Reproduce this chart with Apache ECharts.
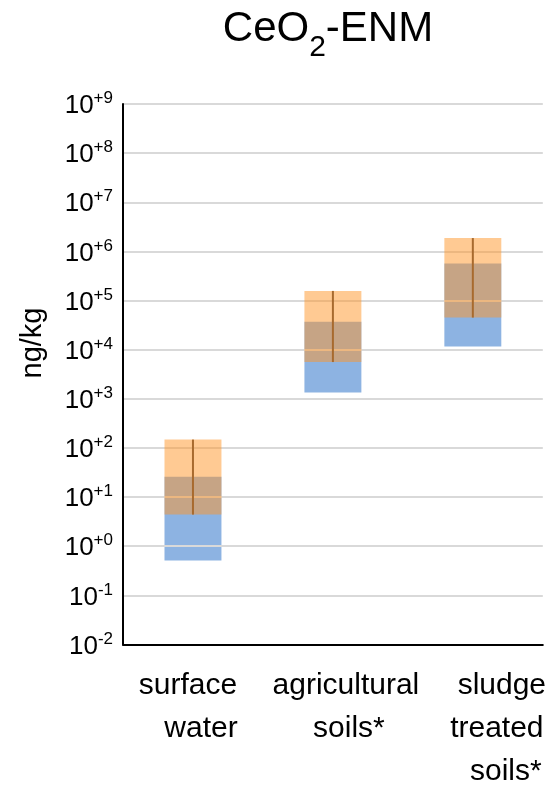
<!DOCTYPE html>
<html>
<head>
<meta charset="utf-8">
<script src="https://cdn.jsdelivr.net/npm/echarts@6/dist/echarts.min.js"></script>
<style>
html,body{margin:0;padding:0;background:#fff;}
#chart{width:549px;height:788px;}
</style>
</head>
<body>
<div id="chart"></div>
<script>
// ---- data ----
var categories = ['surface water', 'agricultural soils*', 'sludge treated soils*'];
var categoryLines = [['surface', 'water'], ['agricultural', 'soils*'], ['sludge', 'treated', 'soils*']];
var blueLow = [0.51, 1340, 11600];
var blueHigh = [26, 37000, 570000];
var orangeLow = [4.4, 5600, 45000];
var orangeHigh = [148, 157000, 1870000];
var yMin = 0.01, yMax = 1e9;
var yAxisTitle = 'ng/kg';

// ---- layout (styles, not data) ----
var lineOffsets = [[-5, 8], [13, 16], [29, 24, 33]];
var FONT = 'Liberation Sans, Arial, sans-serif';

var chart = echarts.init(document.getElementById('chart'));

var rich = {};
categoryLines.forEach(function (lines, i) {
  lines.forEach(function (l, j) {
    var d = lineOffsets[i][j] || 0;
    rich['c' + i + '_' + j] = {
      fontSize: 30, fontFamily: FONT, color: '#000', lineHeight: 43,
      padding: d >= 0 ? [0, 0, 0, 2 * d] : [0, -2 * d, 0, 0]
    };
  });
});

function rangeItem(color, widthRatio) {
  return function (params, api) {
    var i = api.value(0);
    var lo = api.coord([i, api.value(1)]);
    var hi = api.coord([i, api.value(2)]);
    var bw = api.size([1, 0])[0] * widthRatio;
    return {
      type: 'rect',
      shape: { x: lo[0] - bw / 2, y: hi[1], width: bw, height: lo[1] - hi[1] },
      style: { fill: color }
    };
  };
}

var blueData = categories.map(function (c, i) { return [i, blueLow[i], blueHigh[i]]; });
var orangeData = categories.map(function (c, i) { return [i, orangeLow[i], orangeHigh[i]]; });

var option = {
  animation: false,
  backgroundColor: '#fff',
  title: {
    text: '{a|CeO}{b|2}{a|-ENM}',
    left: 323, top: 3, textAlign: 'center',
    textStyle: {
      fontWeight: 'normal',
      rich: {
        a: { fontSize: 42, fontFamily: FONT, fontWeight: 'normal', color: '#000', lineHeight: 48, verticalAlign: 'top' },
        b: { fontSize: 30, fontFamily: FONT, fontWeight: 'normal', color: '#000', lineHeight: 48, verticalAlign: 'top', padding: [25, 0, 0, 0] }
      }
    }
  },
  graphic: [{
    type: 'text', x: 33, y: 343, rotation: Math.PI / 2,
    style: { text: yAxisTitle, fontSize: 29, fontFamily: FONT, fill: '#000', align: 'center', verticalAlign: 'middle' }
  }],
  grid: { left: 123, right: 6, top: 104, bottom: 143.5 },
  xAxis: {
    type: 'category', data: categories, z: 1,
    axisLine: { show: true, lineStyle: { color: '#000', width: 2 } },
    axisTick: { show: false },
    axisLabel: {
      interval: 0, margin: 20, rich: rich,
      formatter: function (v, idx) {
        return categoryLines[idx].map(function (l, j) { return '{c' + idx + '_' + j + '|' + l + '}'; }).join('\n');
      }
    },
    splitLine: { show: false }
  },
  yAxis: {
    type: 'log', logBase: 10, min: yMin, max: yMax, interval: 1, z: 1,
    axisLine: { show: true, lineStyle: { color: '#000', width: 2 } },
    axisTick: { show: false },
    splitLine: { show: true, lineStyle: { color: '#D9D9D9', width: 2 } },
    axisLabel: {
      margin: 10,
      formatter: function (v) {
        var e = Math.round(Math.log10(v));
        return '{b|10}{s|' + (e >= 0 ? '+' : '') + e + '}';
      },
      rich: {
        b: { fontSize: 26, fontFamily: FONT, color: '#000', lineHeight: 30, verticalAlign: 'top', padding: [4, 0, 0, 0] },
        s: { fontSize: 17, fontFamily: FONT, color: '#000', lineHeight: 30, verticalAlign: 'top', padding: [1, 0, 0, 0] }
      }
    }
  },
  series: [
    {
      type: 'custom', name: 'low', z: 0,
      renderItem: rangeItem('#8DB3E2', 0.407),
      encode: { x: 0, y: [1, 2] },
      data: blueData
    },
    {
      type: 'custom', name: 'high', z: 2,
      renderItem: rangeItem('rgba(255,150,40,0.5)', 0.407),
      encode: { x: 0, y: [1, 2] },
      data: orangeData
    },
    {
      type: 'custom', name: 'whisker', z: 3,
      renderItem: function (params, api) {
        var i = api.value(0);
        var lo = api.coord([i, api.value(1)]);
        var hi = api.coord([i, api.value(2)]);
        return {
          type: 'line',
          shape: { x1: lo[0], y1: lo[1], x2: hi[0], y2: hi[1] },
          style: { stroke: '#A86A2E', lineWidth: 2 }
        };
      },
      encode: { x: 0, y: [1, 2] },
      data: orangeData
    }
  ]
};
chart.setOption(option);
</script>
</body>
</html>
